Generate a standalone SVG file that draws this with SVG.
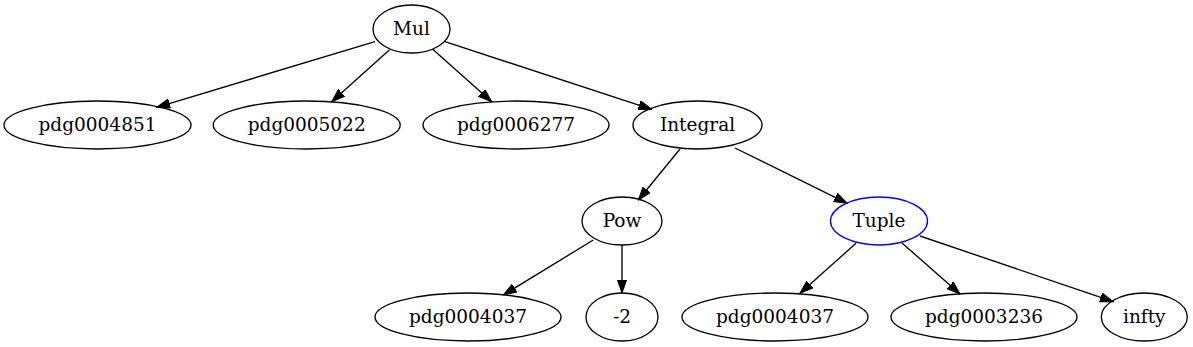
<svg xmlns="http://www.w3.org/2000/svg" width="1193" height="347" viewBox="0 0 1193 347">
<style>
.n ellipse{fill:none;stroke:#000;stroke-width:1.33}
.n text{font-family:"DejaVu Serif",serif;font-size:18.5px;text-anchor:middle;fill:#000}
#tuple ellipse{stroke:#0000ff}
.e line{stroke:#000;stroke-width:1.33;marker-end:url(#ah)}
</style>
<defs>
<marker id="ah" markerUnits="userSpaceOnUse" markerWidth="14" markerHeight="10" refX="13.3" refY="4.67" orient="auto" viewBox="0 0 14 9.34">
<path d="M0,0 L13.3,4.67 L0,9.34 z" fill="#000" stroke="#000" stroke-width="1"/>
</marker>
</defs>
<rect width="1193" height="347" fill="#fff"/>
<g class="e" id="edges">
<line x1="375" y1="41.7" x2="156.7" y2="107.3"/>
<line x1="389.3" y1="50" x2="331.7" y2="101.7"/>
<line x1="432.7" y1="49.3" x2="491.7" y2="101.7"/>
<line x1="445" y1="41.7" x2="651.7" y2="109.3"/>
<line x1="680" y1="149" x2="638.3" y2="200"/>
<line x1="735" y1="148" x2="847.3" y2="203.3"/>
<line x1="593.3" y1="240" x2="503.3" y2="295"/>
<line x1="622" y1="245" x2="622" y2="293"/>
<line x1="856" y1="243.3" x2="800" y2="293.3"/>
<line x1="901.7" y1="242.7" x2="960" y2="294"/>
<line x1="920" y1="236" x2="1113.3" y2="301.7"/>
</g>
<g class="n" id="mul"><ellipse cx="411.5" cy="29" rx="38.5" ry="24"/><text x="411.5" y="34.5">Mul</text></g>
<g class="n" id="pdg0004851"><ellipse cx="97.5" cy="125" rx="93.5" ry="24"/><text x="97.5" y="130.5">pdg0004851</text></g>
<g class="n" id="pdg0005022"><ellipse cx="306.7" cy="125" rx="93.5" ry="24"/><text x="306.7" y="130.5">pdg0005022</text></g>
<g class="n" id="pdg0006277"><ellipse cx="516" cy="125" rx="93" ry="24"/><text x="516" y="130.5">pdg0006277</text></g>
<g class="n" id="integral"><ellipse cx="697.5" cy="125" rx="64.5" ry="24"/><text x="697.5" y="130.5">Integral</text></g>
<g class="n" id="pow"><ellipse cx="622" cy="221" rx="40" ry="24"/><text x="622" y="226.5">Pow</text></g>
<g class="n" id="tuple"><ellipse cx="879" cy="221" rx="48.5" ry="24"/><text x="879" y="226.5">Tuple</text></g>
<g class="n" id="pdg0004037a"><ellipse cx="468" cy="317" rx="93" ry="24"/><text x="468" y="322.5">pdg0004037</text></g>
<g class="n" id="minus2"><ellipse cx="622" cy="317" rx="36" ry="24"/><text x="622" y="322.5">-2</text></g>
<g class="n" id="pdg0004037b"><ellipse cx="775" cy="317" rx="93" ry="24"/><text x="775" y="322.5">pdg0004037</text></g>
<g class="n" id="pdg0003236"><ellipse cx="984" cy="317" rx="93" ry="24"/><text x="984" y="322.5">pdg0003236</text></g>
<g class="n" id="infty"><ellipse cx="1144.3" cy="317" rx="43" ry="24"/><text x="1144.3" y="322.5">infty</text></g>
</svg>
